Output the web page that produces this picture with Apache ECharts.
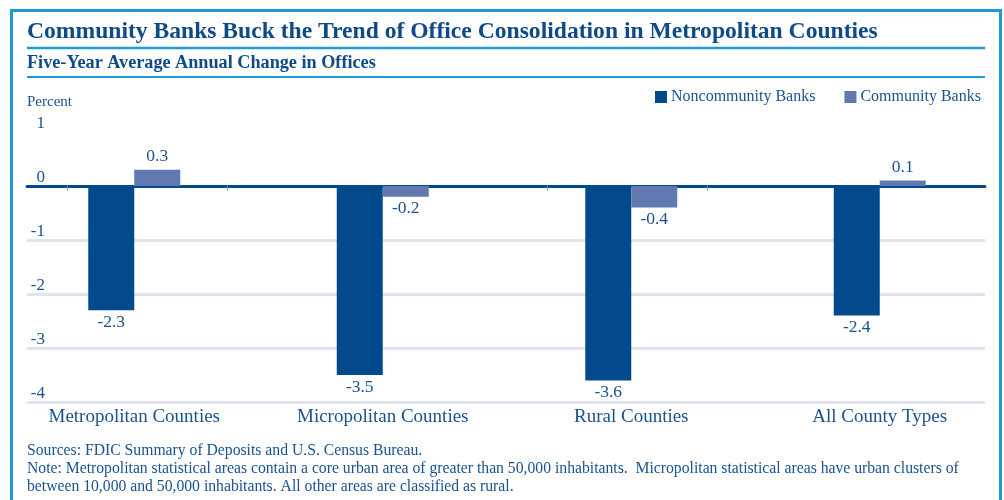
<!DOCTYPE html>
<html><head><meta charset="utf-8">
<script src="https://cdn.jsdelivr.net/npm/echarts@6/dist/echarts.min.js"></script>
<style>html,body{margin:0;padding:0;background:#fff}#c{width:1004px;height:500px}</style>
</head><body><div id="c"></div>
<script>
const categories = ['Metropolitan Counties', 'Micropolitan Counties', 'Rural Counties', 'All County Types'];
const noncommunity = [-2.3, -3.5, -3.6, -2.4];
const community = [0.3, -0.2, -0.4, 0.1];
const seriesNames = ['Noncommunity Banks', 'Community Banks'];
const yTicks = [-4, -3, -2, -1, 0, 1];

const FONT = '"Liberation Serif", "DejaVu Serif", serif';
const TXT = '#1a5290';
const DARK = '#034a8c';
const LIGHT = '#6079b0';
const FRAME = '#1b9ad6';
const GRIDC = '#dfe4ef';

function toData(arr) {
  return arr.map(v => ({ value: v, label: { position: v >= 0 ? 'top' : 'bottom', distance: v >= 0 ? 4 : 3 } }));
}

const chart = echarts.init(document.getElementById('c'), null, { renderer: 'canvas' });
const gTop = 132, gHeight = 270;
chart.setOption({
  animation: false,
  textStyle: { fontFamily: FONT },
  title: [
    { text: 'Community Banks Buck the Trend of Office Consolidation in Metropolitan Counties', left: 27, top: 20, padding: 0,
      textStyle: { fontFamily: FONT, fontWeight: 'bold', fontSize: 23.6, color: '#0f4a88' } },
    { text: 'Five-Year Average Annual Change in Offices', left: 27, top: 54, padding: 0,
      textStyle: { fontFamily: FONT, fontWeight: 'bold', fontSize: 18.2, color: '#0f4a88' } },
    { text: 'Percent', left: 27, top: 95, padding: 0, textStyle: { fontFamily: FONT, fontWeight: 'normal', fontSize: 15, color: TXT } }
  ],
  legend: {
    data: seriesNames, left: 655, top: 89, padding: 0, icon: 'rect', itemWidth: 12, itemHeight: 12, itemGap: 29,
    textStyle: { fontFamily: FONT, fontSize: 16, color: TXT, padding: [0, 0, 0, -1] }
  },
  grid: [
    { left: 10, width: 1001, top: gTop, height: gHeight },
    { left: 27, right: 19, top: gTop, height: gHeight },
    { left: 67, width: 800, top: gTop, height: gHeight }
  ],
  xAxis: [
    { type: 'category', data: categories, gridIndex: 0,
      axisLine: { show: false, onZero: false }, axisTick: { show: false },
      axisLabel: { fontFamily: FONT, fontSize: 19, color: TXT, margin: 6 } },
    { type: 'value', gridIndex: 1, min: 0, max: 1,
      axisLine: { show: true, onZero: true, lineStyle: { color: DARK, width: 3 } },
      axisTick: { show: false }, axisLabel: { show: false }, splitLine: { show: false } },
    { type: 'value', gridIndex: 2, min: 0, max: 5, interval: 1,
      axisLine: { show: false, onZero: true }, axisTick: { show: true, length: 5, lineStyle: { color: '#9a9a9a', width: 1 } },
      axisLabel: { show: false }, splitLine: { show: false } }
  ],
  yAxis: [
    { type: 'value', gridIndex: 0, min: -4, max: 1, interval: 1, show: false, splitLine: { show: false } },
    { type: 'value', gridIndex: 1, min: -4, max: 1, interval: 1,
      axisLine: { show: false }, axisTick: { show: false },
      axisLabel: { fontFamily: FONT, fontSize: 17, color: TXT, margin: -18, verticalAlign: 'bottom', align: 'right',
        formatter: v => String(v) },
      splitLine: { show: true, lineStyle: { width: 3, color: yTicks.map(v => v < 0 ? GRIDC : 'rgba(0,0,0,0)') } } },
    { type: 'value', gridIndex: 2, min: -4, max: 1, show: false, splitLine: { show: false } }
  ],
  series: [
    { name: seriesNames[0], type: 'bar', xAxisIndex: 0, yAxisIndex: 0, data: toData(noncommunity),
      barWidth: 46, barGap: '0%', itemStyle: { color: DARK }, z: 5,
      label: { show: true, fontFamily: FONT, fontSize: 17.5, color: TXT } },
    { name: seriesNames[1], type: 'bar', xAxisIndex: 0, yAxisIndex: 0, data: toData(community),
      barWidth: 46, barGap: '0%', itemStyle: { color: LIGHT }, z: 5,
      label: { show: true, fontFamily: FONT, fontSize: 17.5, color: TXT } }
  ],
  graphic: [
    { type: 'rect', shape: { x: 11.5, y: 10.5, width: 989, height: 520 }, style: { fill: 'none', stroke: FRAME, lineWidth: 3 }, z: 100 },
    { type: 'line', shape: { x1: 27, y1: 48, x2: 985, y2: 48 }, style: { stroke: FRAME, lineWidth: 2.5 } },
    { type: 'line', shape: { x1: 27, y1: 77, x2: 985, y2: 77 }, style: { stroke: FRAME, lineWidth: 2 } },
    { type: 'text', left: 27, top: 443, style: { text: 'Sources: FDIC Summary of Deposits and U.S. Census Bureau.', font: '15.7px ' + FONT, fill: TXT } },
    { type: 'text', left: 27, top: 461, style: { text: 'Note: Metropolitan statistical areas contain a core urban area of greater than 50,000 inhabitants.  Micropolitan statistical areas have urban clusters of', font: '15.7px ' + FONT, fill: TXT } },
    { type: 'text', left: 27, top: 479, style: { text: 'between 10,000 and 50,000 inhabitants. All other areas are classified as rural.', font: '15.7px ' + FONT, fill: TXT } }
  ]
});
</script></body></html>
